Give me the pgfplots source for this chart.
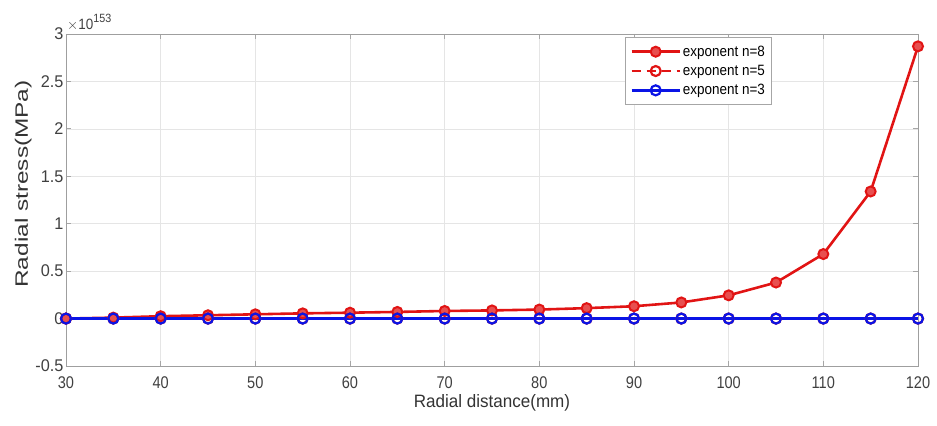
\documentclass[border=0pt]{standalone}
\usepackage{pgfplots}
\pgfplotsset{compat=1.18}
\usepackage{fontspec}
\setmainfont{Liberation Sans}
\newfontfamily\xtickfont[FakeStretch=0.86]{Liberation Sans}
\newfontfamily\ytickfont[FakeStretch=0.96]{Liberation Sans}
\newfontfamily\xlabfont[FakeStretch=0.95]{Liberation Sans}
\newfontfamily\ylabfont[FakeStretch=1.36]{Liberation Sans}
\newfontfamily\legfont[FakeStretch=0.9]{Liberation Sans}
\definecolor{mred}{RGB}{225,20,20}
\definecolor{mblue}{RGB}{10,20,230}
\begin{document}
\begin{tikzpicture}
\path[use as bounding box] (-66bp,-60bp) rectangle (871bp,366bp);
\begin{axis}[
  at={(0,0)}, anchor=south west,
  scale only axis, width=852bp, height=332bp,
  xmin=30, xmax=120, ymin=-0.5, ymax=3,
  xtick={30,40,...,120},
  ytick={-0.5,0,0.5,1,1.5,2,2.5,3},
  yticklabels={-0.5,0,0.5,1,1.5,2,2.5,3},
  /pgf/number format/assume math mode=true,
  xticklabel style={font=\xtickfont\fontsize{17}{19}\selectfont, color=black!75, yshift=-7bp},
  yticklabel style={font=\ytickfont\fontsize{17}{19}\selectfont, color=black!75, xshift=1bp},
  grid=major,
  major grid style={gray!20, line width=0.6pt},
  axis line style={gray!75, line width=1pt},
  tick style={gray!70, line width=1pt},
  tick align=inside,
  major tick length=5bp,
  xlabel={\xlabfont Radial distance(mm)},
  ylabel={\ylabfont Radial stress(MPa)},
  xlabel style={font=\fontsize{18}{20}\selectfont, color=black!80, yshift=1bp},
  ylabel style={font=\fontsize{18}{20}\selectfont, color=black!80, yshift=-3bp, xshift=16bp},
  legend style={at={(0.829,0.99)}, anchor=north east,
    font=\legfont\fontsize{15}{17}\selectfont, draw=gray!70, line width=0.9pt,
    row sep=3.5pt, inner xsep=5pt, inner ysep=6pt, fill=white},
  legend cell align=left,
  legend image code/.code={
    \draw[mark repeat=2,mark phase=2] plot coordinates {(0bp,0bp) (24bp,0bp) (48bp,0bp)};},
  clip=false,
]
\addplot[mred, line width=2.6pt, mark=*, mark size=5bp, mark options={solid, line width=2pt, draw=mred, fill=mred!75!white}]
 coordinates {(30,0) (35,0.01) (40,0.025) (45,0.035) (50,0.045) (55,0.055) (60,0.062) (65,0.07) (70,0.08) (75,0.086) (80,0.095) (85,0.11) (90,0.13) (95,0.17) (100,0.245) (105,0.38) (110,0.68) (115,1.34) (120,2.87)};
\addlegendentry{exponent n=8}
\addplot[mred, line width=2.6pt, dash pattern=on 9bp off 6bp, mark=o, mark size=5bp, mark options={solid, line width=2.2pt, draw=mred}]
 coordinates {(30,0) (35,0) (40,0) (45,0) (50,0) (55,0) (60,0) (65,0) (70,0) (75,0) (80,0) (85,0) (90,0) (95,0) (100,0) (105,0) (110,0) (115,0) (120,0)};
\addlegendentry{exponent n=5}
\addplot[mblue, line width=2.6pt, mark=o, mark size=5bp, mark options={solid, line width=2.2pt}]
 coordinates {(30,0) (35,0) (40,0) (45,0) (50,0) (55,0) (60,0) (65,0) (70,0) (75,0) (80,0) (85,0) (90,0) (95,0) (100,0) (105,0) (110,0) (115,0) (120,0)};
\addlegendentry{exponent n=3}
\node[anchor=south west, font=\legfont\fontsize{15}{17}\selectfont, color=black!75, inner sep=1bp, yshift=2bp] at (rel axis cs:0,1) {$\times$10\raisebox{0.5em}{\fontsize{12}{13}\selectfont 153}};
\end{axis}
\end{tikzpicture}
\end{document}
